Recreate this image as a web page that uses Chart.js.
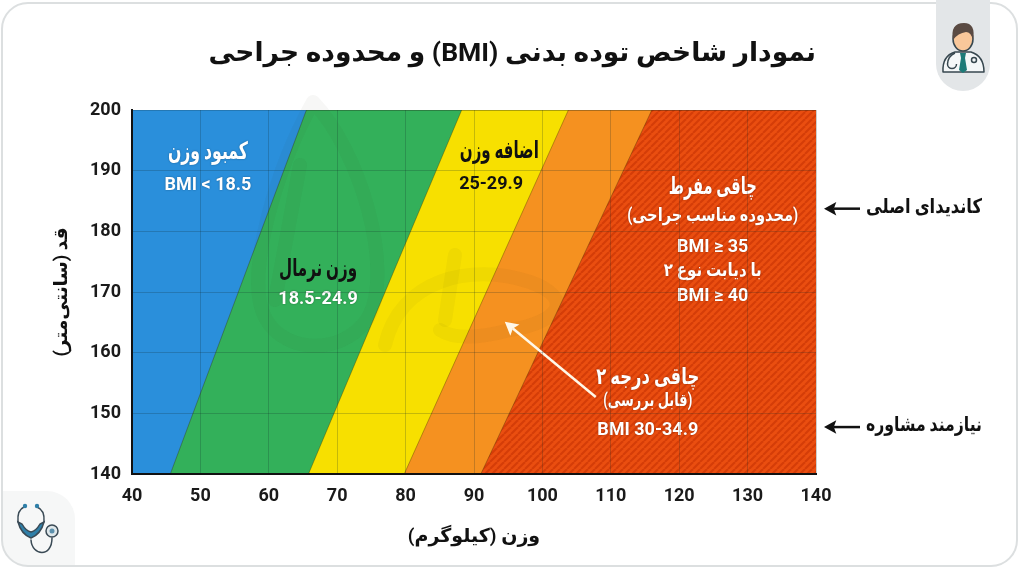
<!DOCTYPE html>
<html lang="fa">
<head>
<meta charset="utf-8">
<title>نمودار BMI</title>
<script src="https://cdn.jsdelivr.net/npm/chart.js@4"></script>
<style>
  html, body { margin: 0; padding: 0; background: #fff; }
  #wrap { width: 1024px; height: 576px; }
  canvas { display: block; }
</style>
</head>
<body>
<div id="wrap"><canvas id="bmiChart" dir="rtl" width="1024" height="576"></canvas></div>
<script>
// data
const xTicks = [40, 50, 60, 70, 80, 90, 100, 110, 120, 130, 140];
const yTicks = [140, 150, 160, 170, 180, 190, 200];

const zoneNames = ["کمبود وزن", "وزن نرمال", "اضافه وزن", "چاقی درجه ۲", "چاقی مفرط"];
// weight where each zone starts, at the bottom (140 cm) and top (200 cm) of the plot
const startAtBottom = [40, 45.6, 65.8, 79.8, 91];
const startAtTop = [40, 65.5, 88.2, 103.8, 116];

const titleText = "نمودار شاخص توده بدنی (BMI) و محدوده جراحی";
const xTitle = "وزن (کیلوگرم)";
const yTitle = "قد (سانتی‌متر)";

// zone captions: text, weight, height, size, colour, direction, max width
const captions = [
    ["کمبود وزن", 51.1, 192.9, 24, "#fff", "rtl", 80],
    ["BMI < 18.5", 51.1, 187.6, 18, "#fff", "ltr", 90],
    ["وزن نرمال", 67.2, 173.6, 24, "#111", "rtl", 78],
    ["18.5-24.9", 67.2, 168.7, 18, "#fff", "ltr", 80],
    ["اضافه وزن", 93.7, 193.1, 24, "#111", "rtl", 79],
    ["25-29.9", 92.5, 187.8, 18, "#111", "ltr", 66],
    ["چاقی مفرط", 124.9, 187.1, 24, "#fff", "rtl", 88],
    ["(محدوده مناسب جراحی)", 124.9, 182.4, 18, "#fff", "rtl", 171],
    ["BMI ≥ 35", 124.9, 177.4, 18, "#fff", "ltr", 74],
    ["با دیابت نوع ۲", 124.9, 173.3, 18, "#fff", "rtl", 98],
    ["BMI ≥ 40", 124.9, 169.3, 18, "#fff", "ltr", 74],
    ["چاقی درجه ۲", 115.4, 155.8, 23, "#fff", "rtl", 103],
    ["(قابل بررسی)", 115.4, 151.9, 18, "#fff", "rtl", 89],
    ["BMI 30-34.9", 115.4, 147.1, 18, "#fff", "ltr", 103],
];
const sideNotes = [
    ["کاندیدای اصلی", 183.9],
    ["نیازمند مشاوره", 147.9],
];

const zoneColors = ["#2a8fdb", "#33b05a", "#f7e000", "#f59120"];
const FONT = "Roboto, 'Noto Sans', 'DejaVu Sans', sans-serif";

// --- red zone stripes ---
function stripes() {
    const c = document.createElement("canvas");
    c.width = 7;
    c.height = 7;
    const g = c.getContext("2d");
    g.fillStyle = "#ea4e10";
    g.fillRect(0, 0, 7, 7);
    g.strokeStyle = "#d43d08";
    g.lineWidth = 2;
    [-7, 0, 7].forEach((o) => {
        g.beginPath();
        g.moveTo(o, 7);
        g.lineTo(o + 7, 0);
        g.stroke();
    });
    return g.createPattern(c, "repeat");
}

function arrow(ctx, x1, y1, x2, y2, color, width, head) {
    const a = Math.atan2(y2 - y1, x2 - x1);
    ctx.strokeStyle = color;
    ctx.fillStyle = color;
    ctx.lineWidth = width;
    ctx.beginPath();
    ctx.moveTo(x1, y1);
    ctx.lineTo(x2 - Math.cos(a) * head * 0.7, y2 - Math.sin(a) * head * 0.7);
    ctx.stroke();
    ctx.beginPath();
    ctx.moveTo(x2, y2);
    ctx.lineTo(x2 - Math.cos(a - 0.5) * head, y2 - Math.sin(a - 0.5) * head);
    ctx.lineTo(x2 - Math.cos(a) * head * 0.7, y2 - Math.sin(a) * head * 0.7);
    ctx.lineTo(x2 - Math.cos(a + 0.5) * head, y2 - Math.sin(a + 0.5) * head);
    ctx.closePath();
    ctx.fill();
}

// faint logo that sits over the zones
function watermark(ctx) {
    ctx.save();
    ctx.lineCap = "round";
    ctx.strokeStyle = "rgba(60,50,20,0.04)";
    ctx.lineWidth = 14;
    ctx.beginPath();
    ctx.moveTo(313, 102);
    ctx.bezierCurveTo(275, 170, 248, 270, 262, 310);
    ctx.bezierCurveTo(275, 352, 340, 360, 368, 318);
    ctx.bezierCurveTo(395, 270, 360, 150, 313, 102);
    ctx.stroke();
    ctx.beginPath();
    ctx.moveTo(300, 165);
    ctx.lineTo(275, 300);
    ctx.stroke();
    ctx.beginPath();
    ctx.moveTo(385, 345);
    ctx.bezierCurveTo(400, 280, 470, 262, 530, 282);
    ctx.bezierCurveTo(575, 298, 560, 322, 510, 330);
    ctx.bezierCurveTo(480, 338, 455, 340, 440, 330);
    ctx.stroke();
    ctx.beginPath();
    ctx.moveTo(455, 255);
    ctx.lineTo(445, 320);
    ctx.stroke();
    ctx.restore();
}

// --- card and corner tabs behind the chart ---
const cardPlugin = {
    id: "card",
    beforeDraw(chart) {
        const ctx = chart.ctx;
        ctx.save();
        ctx.fillStyle = "#fff";
        ctx.fillRect(0, 0, 1024, 576);
        // bottom left tab
        ctx.fillStyle = "#f6f7f7";
        ctx.beginPath();
        ctx.roundRect(2, 491, 73, 75, [0, 28, 0, 26]);
        ctx.fill();
        // card outline
        ctx.strokeStyle = "#dcdfe0";
        ctx.lineWidth = 2;
        ctx.beginPath();
        ctx.roundRect(2, 3, 1015, 563, 26);
        ctx.stroke();
        // top right tab
        ctx.fillStyle = "#e3e6e8";
        ctx.beginPath();
        ctx.roundRect(936, -30, 54, 121, [0, 0, 27, 27]);
        ctx.fill();
        ctx.restore();
    },
    afterDraw(chart) {
        const ctx = chart.ctx;
        doctor(ctx);
        stethoscope(ctx);
    },
};

function doctor(ctx) {
    ctx.save();
    ctx.lineJoin = "round";
    ctx.strokeStyle = "#37474f";
    ctx.lineWidth = 1.5;
    // coat
    ctx.fillStyle = "#f4f7f8";
    ctx.beginPath();
    ctx.moveTo(943, 72);
    ctx.quadraticCurveTo(942, 56, 955, 52);
    ctx.lineTo(971, 52);
    ctx.quadraticCurveTo(984, 56, 984, 72);
    ctx.closePath();
    ctx.fill();
    ctx.stroke();
    // tie
    ctx.fillStyle = "#1d7a78";
    ctx.beginPath();
    ctx.moveTo(960, 53);
    ctx.lineTo(966, 53);
    ctx.lineTo(965, 58);
    ctx.lineTo(967, 70);
    ctx.lineTo(963, 73);
    ctx.lineTo(959, 70);
    ctx.lineTo(961, 58);
    ctx.closePath();
    ctx.fill();
    // neck and face
    ctx.fillStyle = "#f9c79a";
    ctx.beginPath();
    ctx.ellipse(963, 39, 10, 12, 0, 0, Math.PI * 2);
    ctx.fill();
    ctx.stroke();
    // hair
    ctx.fillStyle = "#5a4a42";
    ctx.beginPath();
    ctx.moveTo(953, 40);
    ctx.quadraticCurveTo(950, 23, 964, 23);
    ctx.quadraticCurveTo(976, 23, 973, 40);
    ctx.quadraticCurveTo(971, 32, 966, 32);
    ctx.quadraticCurveTo(958, 33, 953, 40);
    ctx.closePath();
    ctx.fill();
    // stethoscope
    ctx.beginPath();
    ctx.arc(952, 64, 4.5, Math.PI, 0, true);
    ctx.moveTo(947.5, 64);
    ctx.quadraticCurveTo(948, 56, 955, 53);
    ctx.stroke();
    ctx.beginPath();
    ctx.arc(974, 60, 2.5, 0, Math.PI * 2);
    ctx.stroke();
    ctx.restore();
}

function stethoscope(ctx) {
    ctx.save();
    ctx.lineCap = "round";
    ctx.strokeStyle = "#3a4a55";
    ctx.lineWidth = 1.5;
    ctx.beginPath();
    ctx.moveTo(24, 507);
    ctx.quadraticCurveTo(17, 510, 18, 522);
    ctx.moveTo(37, 507);
    ctx.quadraticCurveTo(45, 510, 44, 522);
    ctx.moveTo(31, 540);
    ctx.bezierCurveTo(32, 556, 52, 558, 52, 538);
    ctx.stroke();
    ctx.fillStyle = "#2f7fa8";
    ctx.beginPath();
    ctx.moveTo(18, 522);
    ctx.quadraticCurveTo(21, 534, 31, 538);
    ctx.quadraticCurveTo(41, 534, 44, 522);
    ctx.lineTo(40, 524);
    ctx.quadraticCurveTo(36, 531, 31, 532);
    ctx.quadraticCurveTo(26, 531, 22, 524);
    ctx.closePath();
    ctx.fill();
    ctx.stroke();
    ctx.fillStyle = "#2f7fa8";
    [[25, 506], [37, 506]].forEach((p) => {
        ctx.beginPath();
        ctx.arc(p[0], p[1], 2.2, 0, Math.PI * 2);
        ctx.fill();
    });
    ctx.fillStyle = "#dfe7ea";
    ctx.beginPath();
    ctx.arc(52, 531, 6, 0, Math.PI * 2);
    ctx.fill();
    ctx.stroke();
    ctx.fillStyle = "#5d91ad";
    ctx.beginPath();
    ctx.arc(52, 531, 2.5, 0, Math.PI * 2);
    ctx.fill();
    ctx.restore();
}

// --- captions and arrows, placed through the chart's scales ---
const captionPlugin = {
    id: "captions",
    afterDatasetsDraw(chart) {
        const ctx = chart.ctx;
        const xs = chart.scales.x;
        const ys = chart.scales.y;
        watermark(ctx);
        ctx.save();
        ctx.textAlign = "center";
        ctx.textBaseline = "middle";
        captions.forEach((c) => {
            ctx.font = `bold ${c[3]}px ${FONT}`;
            ctx.direction = c[5];
            ctx.fillStyle = c[4];
            ctx.shadowColor = c[4] === "#fff" ? "rgba(0,0,0,0.35)" : "transparent";
            ctx.shadowBlur = 2;
            ctx.fillText(c[0], xs.getPixelForValue(c[1]), ys.getPixelForValue(c[2]), c[6]);
        });
        ctx.shadowColor = "transparent";
        // arrow pointing at the grade 2 zone
        arrow(ctx, xs.getPixelForValue(107.8), ys.getPixelForValue(152.7),
            xs.getPixelForValue(94.5), ys.getPixelForValue(165.1), "#fff8e8", 2.5, 15);
        // side notes
        ctx.direction = "rtl";
        ctx.textAlign = "right";
        ctx.font = `bold 20px ${FONT}`;
        sideNotes.forEach((n) => {
            ctx.fillStyle = "#111";
            ctx.fillText(n[0], 982, ys.getPixelForValue(n[1]), 116);
            arrow(ctx, 860, ys.getPixelForValue(n[1]) + 1, 824, ys.getPixelForValue(n[1]) + 1, "#111", 2.5, 14);
        });
        ctx.restore();
    },
};

// --- chart ---
const redFill = stripes();
const zoneFills = [...zoneColors, redFill];
const ctx = document.getElementById("bmiChart").getContext("2d");

// Chart.js paints dataset 0 last, so the rightmost zone goes first
const datasets = zoneNames.map((name, i) => ({
    label: name,
    data: [
        { x: startAtBottom[i], y: yTicks[0] },
        { x: startAtTop[i], y: yTicks[yTicks.length - 1] },
        { x: xTicks[xTicks.length - 1], y: yTicks[yTicks.length - 1] },
    ],
    showLine: true,
    fill: "start",
    backgroundColor: zoneFills[i],
    borderColor: i === 0 ? "transparent" : "rgba(60,40,0,0.35)",
    borderWidth: 1,
    pointRadius: 0,
})).reverse();

new Chart(ctx, {
    type: "scatter",
    data: { datasets },
    plugins: [cardPlugin, captionPlugin],
    options: {
        responsive: false,
        animation: false,
        layout: { padding: { top: 0, right: 208, bottom: 0, left: 0 } },
        plugins: {
            legend: { display: false },
            tooltip: { enabled: false },
            title: {
                display: true,
                text: titleText,
                align: "end",
                color: "#111",
                font: { family: FONT, size: 26.5, weight: "bold" },
                padding: { top: 38, bottom: 40.2 },
            },
        },
        scales: {
            x: {
                type: "linear",
                min: xTicks[0],
                max: xTicks[xTicks.length - 1],
                afterBuildTicks: (s) => { s.ticks = xTicks.map((v) => ({ value: v })); },
                afterFit: (s) => { s.height = 102; },
                ticks: {
                    color: "#1a1a1a",
                    autoSkip: false,
                    maxRotation: 0,
                    padding: 12,
                    font: { family: FONT, size: 18, weight: "bold" },
                },
                grid: { color: "rgba(20,40,40,0.22)", lineWidth: 1, z: 1, drawTicks: false },
                border: { color: "#111", width: 2, z: 2 },
                title: {
                    display: true,
                    text: xTitle,
                    color: "#111",
                    font: { family: FONT, size: 19, weight: "bold" },
                    padding: { top: 0, bottom: 27 },
                },
            },
            y: {
                type: "linear",
                min: yTicks[0],
                max: yTicks[yTicks.length - 1],
                afterBuildTicks: (s) => { s.ticks = yTicks.map((v) => ({ value: v })); },
                afterFit: (s) => { s.width = 132; },
                ticks: {
                    color: "#1a1a1a",
                    autoSkip: false,
                    padding: 11,
                    font: { family: FONT, size: 18, weight: "bold" },
                },
                grid: { color: "rgba(20,40,40,0.22)", lineWidth: 1, z: 1, drawTicks: false },
                border: { color: "#111", width: 2, z: 2 },
                title: {
                    display: true,
                    text: yTitle,
                    color: "#111",
                    font: { family: FONT, size: 18.5, weight: "bold" },
                    padding: { top: 51, bottom: 0 },
                },
            },
        },
    },
});
</script>
</body>
</html>
